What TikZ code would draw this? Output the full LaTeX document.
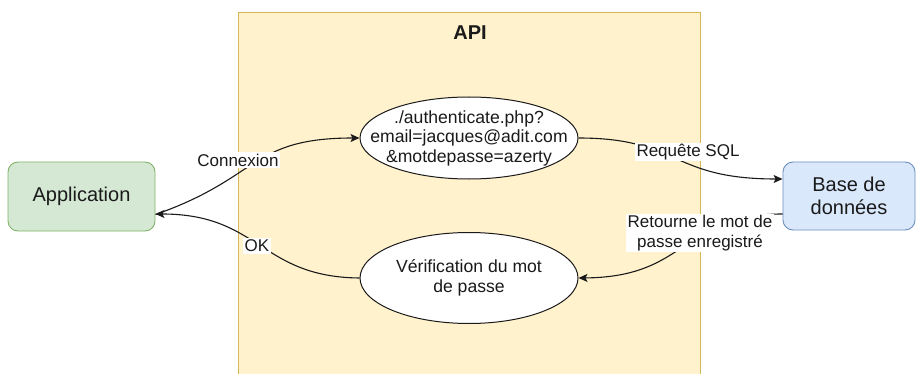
\documentclass[tikz,border=0pt]{standalone}
\usepackage{fontspec}
\setmainfont{Liberation Sans}
\usetikzlibrary{shapes.geometric,arrows.meta}
\definecolor{appfill}{HTML}{D5E8D4}
\definecolor{appline}{HTML}{82B366}
\definecolor{dbfill}{HTML}{DAE8FC}
\definecolor{dbline}{HTML}{6C8EBF}
\definecolor{apifill}{HTML}{FFF2CC}
\definecolor{apiline}{HTML}{D6B656}
\definecolor{ink}{HTML}{1A1A1A}
\tikzset{
  box/.style={draw, rounded corners=10pt, line width=0.9pt, align=center, inner sep=0pt,
    font=\fontsize{20}{23}\selectfont, text=ink},
  oval/.style={draw=ink, ellipse, fill=white, line width=1pt, inner sep=0pt},
  ovaltext/.style={inner sep=0pt, align=center, font=\fontsize{17.6}{19.5}\selectfont, text=ink},
  edgelabel/.style={fill=white, inner sep=1.5pt, align=center,
    font=\fontsize{17}{19.5}\selectfont, text=ink},
  conn/.style={draw=ink, line width=1.1pt, -{Stealth[length=9pt,width=8pt,inset=2pt]}},
}
\begin{document}
\begin{tikzpicture}[x=1pt,y=-1pt]
\useasboundingbox (0,0) rectangle (917,374);
% API container
\begin{scope}
\clip (0,0) rectangle (917,374);
\node[draw=apiline, fill=apifill, line width=0.9pt, minimum width=462pt, minimum height=400pt,
  inner sep=0pt, anchor=north west] (api) at (238,12) {};
\end{scope}
\node[font=\fontsize{20}{23}\selectfont\bfseries, text=ink] (apititle) at (470,33) {API};
% main nodes
\node[box, draw=appline, fill=appfill, minimum width=147pt, minimum height=69pt] (app) at (81.5,196.5) {Application};
\node[box, draw=dbline, fill=dbfill, minimum width=132pt, minimum height=68pt] (db) at (849,196) {Base de\\données};
\node[oval, minimum width=218pt, minimum height=82pt] (auth) at (469,138) {};
\node[ovaltext] (authtext) at (auth.center) {./authenticate.php?\\email=jacques@adit.com\\\&motdepasse=azerty};
\node[oval, minimum width=218pt, minimum height=91pt] (verif) at (469,278) {};
\node[ovaltext] (veriftext) at (verif.center) {Vérification du mot\\de passe};
% connectors
\draw[conn] ([yshift=-18pt]app.east) .. controls (260,178) and (250,138) .. (auth.west);
\draw[conn] (auth.east) .. controls (680,138) and (670,179) .. ([yshift=17pt]db.west);
\draw[conn] ([yshift=-18pt]db.west) .. controls (680,214) and (690,277) .. (verif.east);
\draw[conn] (verif.west) .. controls (260,277) and (260,214) .. ([yshift=-17.5pt]app.east);
% labels
\node[edgelabel] (lconn) at (238,160) {Connexion};
\node[edgelabel] (lsql) at (688,152) {Requête SQL};
\node[edgelabel] (lret) at (700,233) {Retourne le mot de\\passe enregistré};
\node[edgelabel] (lok) at (257,246) {OK};
\end{tikzpicture}
\end{document}
